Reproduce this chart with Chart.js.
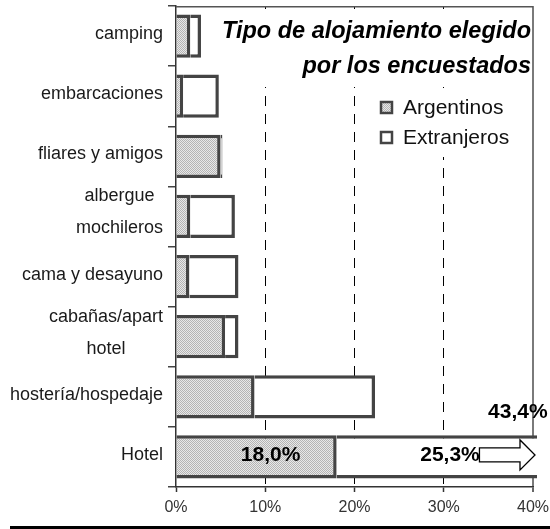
<!DOCTYPE html>
<html><head><meta charset="utf-8">
<script src="https://cdn.jsdelivr.net/npm/chart.js@4.4.1/dist/chart.umd.min.js"></script>
<style>html,body{margin:0;padding:0;background:#fff;}#wrap{width:550px;height:529px;}</style>
</head><body><div id="wrap"><canvas id="c" width="550" height="529"></canvas></div>
<script>
// ---- data ----
const categories = ['camping','embarcaciones','fliares y amigos',['albergue','mochileros'],'cama y desayuno',['cabañas/apart','hotel'],'hostería/hospedaje','Hotel'];
const seriesNames = ['Argentinos','Extranjeros'];
const argentinos = [1.6, 0.8, 5.0, 1.6, 1.5, 5.5, 8.8, 18.0];
const extranjeros = [1.2, 4.0, 0.2, 5.0, 5.5, 1.5, 13.5, 25.3];
const xTicks = [0, 10, 20, 30, 40];
const titleLines = ['Tipo de alojamiento elegido', 'por los encuestados'];
const hotelLabels = ['18,0%', '25,3%', '43,4%'];

const FONT = '"Liberation Sans", Arial, sans-serif';
const canvas = document.getElementById('c');
const ctx0 = canvas.getContext('2d', { willReadFrequently: true });
function makePattern(){
  const c = document.createElement('canvas'); c.width = 2; c.height = 2;
  const x = c.getContext('2d');
  x.fillStyle = '#e8e8e8'; x.fillRect(0,0,2,2);
  x.fillStyle = '#b4b4b4'; x.fillRect(0,0,1,1); x.fillRect(1,1,1,1);
  return ctx0.createPattern(c, 'repeat');
}
const pattern = makePattern();
const fills = [pattern, '#ffffff'];
const CLEAR = 'rgba(0,0,0,0)';

const decor = {
  id: 'decor',
  beforeDatasetsDraw(chart){
    const ctx = chart.ctx;
    ctx.save();
    ctx.fillStyle = '#fff';
    ctx.fillRect(219, 9, 312, 78);   // title backdrop
    ctx.fillRect(368, 89, 163, 68);  // legend backdrop
    ctx.restore();
  },
  afterDraw(chart){
    const ctx = chart.ctx;
    const xs = chart.scales.x, ys = chart.scales.y, ca = chart.chartArea;
    ctx.save();
    ctx.setLineDash([]);
    // top frame edge
    ctx.strokeStyle = '#555'; ctx.lineWidth = 1.5;
    ctx.beginPath(); ctx.moveTo(ca.left, ca.top + 0.75); ctx.lineTo(ca.right, ca.top + 0.75); ctx.stroke();
    // title
    ctx.fillStyle = '#000';
    ctx.font = 'italic bold 23.5px ' + FONT;
    ctx.textAlign = 'right'; ctx.textBaseline = 'alphabetic';
    ctx.fillText(titleLines[0], 531, 38);
    ctx.fillText(titleLines[1], 531, 73);
    // legend
    seriesNames.forEach((n, i) => {
      const yc = 107 + 30 * i;
      ctx.fillStyle = fills[i];
      ctx.fillRect(381, yc - 5, 11, 11);
      ctx.lineWidth = 2.5; ctx.strokeStyle = '#444';
      ctx.strokeRect(381, yc - 5, 11, 11);
      ctx.fillStyle = '#111';
      ctx.font = '21px ' + FONT;
      ctx.textAlign = 'left'; ctx.textBaseline = 'middle';
      ctx.fillText(n, 403, yc + 1);
    });
    // y labels
    ctx.fillStyle = '#1a1a1a';
    ctx.font = '18px ' + FONT;
    ctx.textBaseline = 'middle';
    categories.forEach((lab, i) => {
      const yc = ys.getPixelForValue(i);
      const right = ca.left - 13;
      if (Array.isArray(lab)) {
        const w = Math.max(...lab.map(l => ctx.measureText(l).width));
        ctx.textAlign = 'center';
        const cx = right - w / 2;
        const lh = 32;
        const y0 = yc - 4 - (lab.length - 1) * lh / 2;
        lab.forEach((l, k) => ctx.fillText(l, cx, y0 + k * lh));
      } else {
        ctx.textAlign = 'right';
        ctx.fillText(lab, right, yc - 2);
      }
    });
    // hotel labels
    const yh = ys.getPixelForValue(categories.length - 1);
    ctx.fillStyle = '#000';
    ctx.font = 'bold 21px ' + FONT;
    ctx.textAlign = 'center'; ctx.textBaseline = 'middle';
    ctx.fillText(hotelLabels[0], xs.getPixelForValue(10.6), yh - 2);
    ctx.fillText(hotelLabels[1], xs.getPixelForValue(30.7), yh - 2);
    ctx.fillText(hotelLabels[2], xs.getPixelForValue(38.3), yh - 45);
    // arrow
    const ax0 = xs.getPixelForValue(34), tip = ca.right + 2, hx = tip - 15, ay = yh - 2;
    ctx.beginPath();
    ctx.moveTo(ax0, ay - 7); ctx.lineTo(hx, ay - 7); ctx.lineTo(hx, ay - 15);
    ctx.lineTo(tip, ay); ctx.lineTo(hx, ay + 15); ctx.lineTo(hx, ay + 7);
    ctx.lineTo(ax0, ay + 7); ctx.closePath();
    ctx.fillStyle = '#fff'; ctx.fill();
    ctx.lineWidth = 1.3; ctx.strokeStyle = '#000'; ctx.stroke();
    // bottom rule
    ctx.fillStyle = '#000';
    ctx.fillRect(10, 526, 540, 3);
    ctx.restore();
    ctx.getImageData(0, 0, 1, 1);
  }
};

const common = { borderColor: '#444', borderWidth: 3.5, borderSkipped: 'start', barPercentage: 0.72, categoryPercentage: 1, clip: {left: 0, top: 0, right: 4, bottom: 0} };

new Chart(ctx0, {
  type: 'bar',
  data: {
    labels: categories,
    datasets: [
      Object.assign({ label: seriesNames[0], data: argentinos, backgroundColor: fills[0] }, common),
      Object.assign({ label: seriesNames[1], data: extranjeros, backgroundColor: fills[1] }, common)
    ]
  },
  options: {
    indexAxis: 'y',
    responsive: false,
    animation: false,
    devicePixelRatio: 1,
    layout: { padding: { top: 6, right: 17, left: 0, bottom: 0 } },
    plugins: { legend: { display: false }, tooltip: { enabled: false } },
    scales: {
      x: {
        type: 'linear', min: 0, max: 40, stacked: true,
        afterBuildTicks: s => { s.ticks = xTicks.map(v => ({ value: v })); },
        ticks: { callback: v => v + '%', font: { family: FONT, size: 16 }, color: '#333', padding: 6, maxRotation: 0, autoSkip: false },
        grid: {
          color: c => (c.tick && c.tick.value === 0) ? CLEAR : ((c.tick && c.tick.value === 40) ? '#7a7a7a' : '#000'),
          lineWidth: c => (c.tick && c.tick.value === 40) ? 2 : 1,
          tickColor: '#333', tickLength: 5, tickWidth: 1.5
        },
        border: { color: '#333', width: 1.5, dash: c => (c.tick && c.tick.value === 40) ? [] : [10, 8] },
        afterFit: s => { s.height = 42; s.paddingLeft = 0; s.paddingRight = 0; }
      },
      y: {
        type: 'category', stacked: true, offset: true,
        ticks: { display: true, color: CLEAR, font: { family: FONT, size: 18 } },
        grid: { display: true, offset: true, drawOnChartArea: false, drawTicks: true, tickLength: 8, tickColor: '#444', tickWidth: 1.5, color: '#444', lineWidth: 1.5 },
        border: { display: true, color: '#333', width: 1.5 },
        afterFit: s => { s.width = 176; s.paddingTop = 0; s.paddingBottom = 0; }
      }
    }
  },
  plugins: [decor]
});
</script>
</body></html>
